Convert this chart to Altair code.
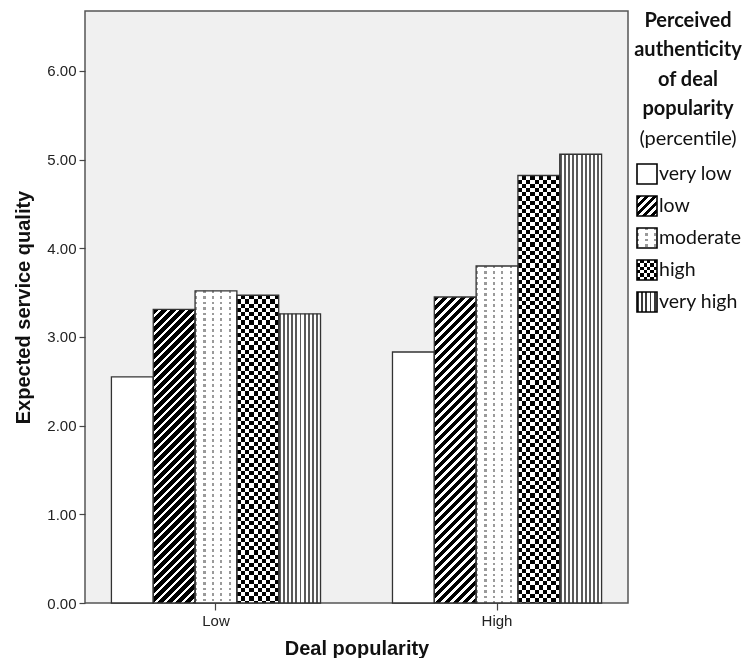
import altair as alt
import pandas as pd

# ---------------- data ----------------
groups = ["Low", "High"]
categories = ["very low", "low", "moderate", "high", "very high"]
values_low = [2.55, 3.31, 3.52, 3.47, 3.26]
values_high = [2.83, 3.45, 3.80, 4.82, 5.06]
y_ticks = [0, 1, 2, 3, 4, 5, 6]
y_max = 6.675
legend_title_bold = ["Perceived", "authenticity", "of deal", "popularity"]
legend_title_normal = "(percentile)"

rows = []
for g, vals in zip(groups, [values_low, values_high]):
    for c, v in zip(categories, vals):
        rows.append({"popularity": g, "authenticity": c, "value": v})
df = pd.DataFrame(rows)
legend_df = pd.DataFrame({"authenticity": categories})

# ---------------- layout ----------------
W, H = 543, 592
PAD_L, PAD_T, PAD_R, PAD_B = 77, 3, 115, 55
PI, PO = 0.256, 0.094
step = W / (len(groups) - PI + 2 * PO)
bar_w = step * (1 - PI) / len(categories)


def bar_h(v):
    return v / y_max * H


def clamp(t):
    return round(max(0.0, min(1.0, t)), 5)


def seg_stops(length, period, frac, c1, c2, scale):
    stops = []
    s = 0.0
    while s < length - 1e-9:
        s1 = min(s + frac * period, length)
        s2 = min(s + period, length)
        for a, b, c in ((s, s1, c1), (s1, s2, c2)):
            if b > a:
                stops.append({"offset": clamp(a * scale), "color": c})
                stops.append({"offset": clamp(b * scale), "color": c})
        s += period
    return stops


def stripes(length, period, frac, c1, c2, axis):
    st = seg_stops(length, period, frac, c1, c2, 1.0 / length)
    if axis == "x":
        return {"gradient": "linear", "x1": 0, "y1": 0, "x2": 1, "y2": 0, "stops": st}
    return {"gradient": "linear", "x1": 0, "y1": 0, "x2": 0, "y2": 1, "stops": st}


def diagonal(w, h, period, frac, c1, c2):
    k = w / (w * w + h * h)
    st = seg_stops(w + h, period, frac, c1, c2, k)
    return {"gradient": "linear", "x1": 0, "y1": 0, "x2": 1, "y2": round(h / w, 5), "stops": st}


DIAG_P, DIAG_F = 9.0, 0.6
CHK_P = bar_w / 5
DOT_COL_P, DOT_ROW_P = bar_w / 5, 5.5
VH_P = bar_w / 10

# ---------------- encodings ----------------
x_enc = alt.X(
    "popularity:N",
    scale=alt.Scale(domain=groups, paddingInner=PI, paddingOuter=PO),
    axis=alt.Axis(labelAngle=0, tickSize=7, labelPadding=3, domain=False,
                  titleY=51, titleBaseline="alphabetic"),
    title="Deal popularity",
)
xo_enc = alt.XOffset("authenticity:N",
                     scale=alt.Scale(domain=categories, paddingInner=0, paddingOuter=0))
y_enc = alt.Y(
    "value:Q",
    scale=alt.Scale(domain=[0, y_max], nice=False, zero=True),
    axis=alt.Axis(values=y_ticks, format=".2f", tickSize=6, labelPadding=3, domain=False,
                  titleAngle=270, titleX=-56, titleY=H / 2, titleAlign="center",
                  titleBaseline="alphabetic"),
    title="Expected service quality",
)

base = alt.Chart(df).encode(x=x_enc, xOffset=xo_enc, y=y_enc)


def one(cat, grp=None):
    cond = alt.datum.authenticity == cat
    if grp is not None:
        cond = cond & (alt.datum.popularity == grp)
    return base.transform_filter(cond)


layers = []
# very low: white
layers.append(one("very low").mark_bar(fill="white"))
# low: diagonal hatch, per bar
for g, vals in zip(groups, [values_low, values_high]):
    h = bar_h(vals[1])
    layers.append(one("low", g).mark_bar(fill=diagonal(bar_w, h, DIAG_P, DIAG_F, "#000000", "#ffffff")))
# moderate: dotted
layers.append(one("moderate").mark_bar(fill=stripes(bar_w, DOT_COL_P, 0.26, "#9a9a9a", "#ffffff", "x")))
for g, vals in zip(groups, [values_low, values_high]):
    h = bar_h(vals[2])
    layers.append(one("moderate", g).mark_bar(
        fill=stripes(h, DOT_ROW_P, 0.4, "#000000", "#ffffff", "y"), blend="lighten"))
# high: checkerboard
layers.append(one("high").mark_bar(fill=stripes(bar_w, CHK_P, 0.5, "#000000", "#ffffff", "x")))
for g, vals in zip(groups, [values_low, values_high]):
    h = bar_h(vals[3])
    layers.append(one("high", g).mark_bar(
        fill=stripes(h, CHK_P, 0.5, "#ffffff", "#000000", "y"), blend="difference"))
# very high: vertical lines
layers.append(one("very high").mark_bar(fill=stripes(bar_w, VH_P, 0.45, "#5a5a5a", "#ffffff", "x")))
# outlines
layers.append(base.mark_bar(fill="white", fillOpacity=0, stroke="#333333", strokeWidth=1.3))

# ---------------- legend ----------------
OX, OY = 85, 11  # page position of plot origin
SW_X0, SW_SIZE = 637, 20
ROW0, ROW_STEP = 174, 32
LBL_X = 659
TITLE_CX = 688
TITLE_BASE0, TITLE_STEP = 27, 29.4


def sw(i, fill, **kw):
    yc = ROW0 + ROW_STEP * i
    return alt.Chart(legend_df).transform_filter(alt.datum.authenticity == categories[i]).mark_rect(
        fill=fill, **kw).encode(
        x=alt.value(SW_X0 - OX), x2=alt.value(SW_X0 + SW_SIZE - OX),
        y=alt.value(yc - SW_SIZE / 2 - OY), y2=alt.value(yc + SW_SIZE / 2 - OY))


S = SW_SIZE
layers.append(sw(0, "#ffffff"))
layers.append(sw(1, diagonal(S, S, 8.0, DIAG_F, "#000000", "#ffffff")))
layers.append(sw(2, stripes(S, DOT_COL_P, 0.26, "#9a9a9a", "#ffffff", "x")))
layers.append(sw(2, stripes(S, DOT_ROW_P, 0.4, "#000000", "#ffffff", "y"), blend="lighten"))
layers.append(sw(3, stripes(S, 6.7, 0.5, "#000000", "#ffffff", "x")))
layers.append(sw(3, stripes(S, 6.7, 0.5, "#ffffff", "#000000", "y"), blend="difference"))
layers.append(sw(4, stripes(S, VH_P, 0.45, "#3a3a3a", "#ffffff", "x")))
for i in range(len(categories)):
    layers.append(sw(i, "#ffffff", fillOpacity=0, stroke="#000000", strokeWidth=1.6))

for i, c in enumerate(categories):
    yc = ROW0 + ROW_STEP * i
    layers.append(
        alt.Chart(legend_df).transform_filter(alt.datum.authenticity == c).mark_text(
            font="Lato", fontSize=19.5, color="#111111", align="left", baseline="middle").encode(
            text="authenticity:N", x=alt.value(LBL_X - OX), y=alt.value(yc - OY)))

title_lines = legend_title_bold + [legend_title_normal]
for j, line in enumerate(title_lines):
    layers.append(
        alt.Chart(pd.DataFrame({"t": [line]})).mark_text(
            font="Lato", fontSize=20, fontWeight="bold" if j < len(legend_title_bold) else "normal",
            color="#111111", align="center", baseline="alphabetic").encode(
            text="t:N", x=alt.value(TITLE_CX - OX), y=alt.value(TITLE_BASE0 + TITLE_STEP * j - OY)))

chart = alt.layer(*layers).properties(
    width=W, height=H,
    autosize=alt.AutoSizeParams(type="none"),
    padding={"left": PAD_L, "top": PAD_T, "right": PAD_R, "bottom": PAD_B},
).configure_view(
    fill="#f0f0f0", stroke="#555555", strokeWidth=1.5
).configure_axis(
    grid=False,
    labelFont="Liberation Sans", labelFontSize=15, labelColor="#222222",
    titleFont="Liberation Sans", titleFontSize=20, titleFontWeight="bold", titleColor="#111111",
    tickColor="#444444", tickWidth=1.2,
)

chart.save("out.html", embed_options={"renderer": "svg", "actions": False})
